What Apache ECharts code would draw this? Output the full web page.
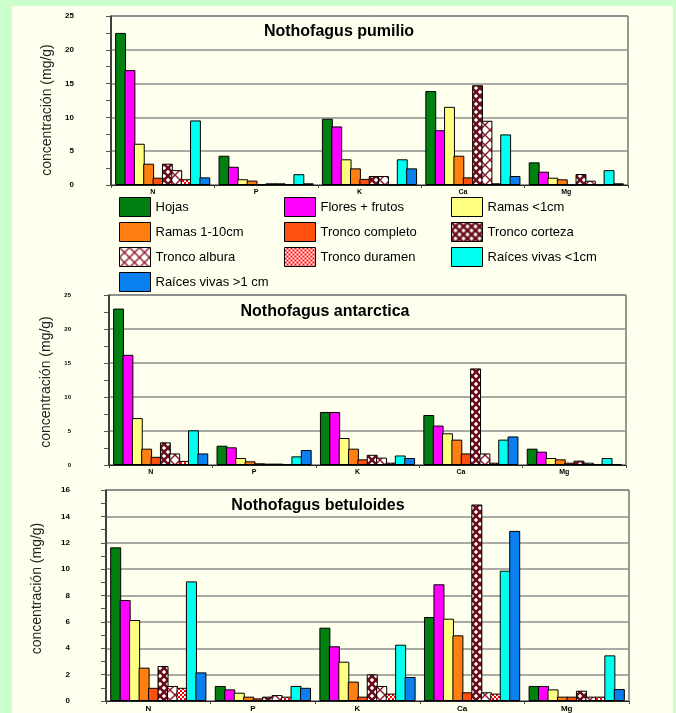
<!DOCTYPE html>
<html>
<head>
<meta charset="utf-8">
<script src="https://cdn.jsdelivr.net/npm/echarts@6/dist/echarts.min.js"></script>
<style>
html,body{margin:0;padding:0;background:#ccffcc;}
#chart{width:676px;height:713px;}
</style>
</head>
<body>
<div id="chart"></div>
<script>
// ---- Data ----
const elements = ['N', 'P', 'K', 'Ca', 'Mg'];
const seriesNames = ['Hojas', 'Flores + frutos', 'Ramas <1cm', 'Ramas 1-10cm', 'Tronco completo',
  'Tronco corteza', 'Tronco albura', 'Tronco duramen', 'Raíces vivas <1cm', 'Raíces vivas >1 cm'];
const yTicks25 = [0, 5, 10, 15, 20, 25];
const yTicks16 = [0, 2, 4, 6, 8, 10, 12, 14, 16];

// Nothofagus pumilio (values per element, in series order)
const pumilio_N  = [22.5, 17.0, 6.1, 3.15, 1.08, 3.15, 2.2, 0.85, 9.55, 1.13];
const pumilio_P  = [4.33, 2.7, 0.85, 0.65, 0.08, 0.25, 0.25, 0.12, 1.6, 0.25];
const pumilio_K  = [9.8, 8.66, 3.8, 2.46, 0.9, 1.33, 1.33, 0.05, 3.8, 2.46];
const pumilio_Ca = [13.9, 8.1, 11.56, 4.33, 1.13, 14.76, 9.5, 0.25, 7.48, 1.33];
const pumilio_Mg = [3.35, 1.97, 1.08, 0.84, 0.05, 1.62, 0.64, 0.05, 2.2, 0.25];

// Nothofagus antarctica
const antarctica_N  = [23.0, 16.2, 6.9, 2.4, 1.2, 3.33, 1.7, 0.6, 5.1, 1.7];
const antarctica_P  = [2.84, 2.6, 1.03, 0.54, 0.25, 0.2, 0.2, 0.15, 1.27, 2.2];
const antarctica_K  = [7.8, 7.8, 3.97, 2.4, 0.83, 1.5, 1.08, 0.34, 1.4, 1.03];
const antarctica_Ca = [7.35, 5.8, 4.66, 3.73, 1.7, 14.2, 1.7, 0.34, 3.73, 4.2];
const antarctica_Mg = [2.4, 1.96, 1.03, 0.83, 0.34, 0.64, 0.34, 0.15, 1.03, 0.12];

// Nothofagus betuloides
const betuloides_N  = [11.65, 7.66, 6.14, 2.53, 1.0, 2.65, 1.14, 1.0, 9.07, 2.17];
const betuloides_P  = [1.14, 0.88, 0.63, 0.33, 0.2, 0.33, 0.45, 0.33, 1.14, 1.0];
const betuloides_K  = [5.56, 4.15, 2.98, 1.47, 0.33, 2.02, 1.14, 0.56, 4.27, 1.82];
const betuloides_Ca = [6.37, 8.85, 6.24, 4.98, 0.66, 14.9, 0.66, 0.56, 9.88, 12.9];
const betuloides_Mg = [1.14, 1.14, 0.88, 0.33, 0.33, 0.78, 0.33, 0.33, 3.46, 0.91];

const species = [
  { title: 'Nothofagus pumilio', rows: [pumilio_N, pumilio_P, pumilio_K, pumilio_Ca, pumilio_Mg], ticks: yTicks25 },
  { title: 'Nothofagus antarctica', rows: [antarctica_N, antarctica_P, antarctica_K, antarctica_Ca, antarctica_Mg], ticks: yTicks25 },
  { title: 'Nothofagus betuloides', rows: [betuloides_N, betuloides_P, betuloides_K, betuloides_Ca, betuloides_Mg], ticks: yTicks16 }
];

// ---- Styles ----
function makePattern(w, h, draw) {
  const c = document.createElement('canvas');
  c.width = w; c.height = h;
  draw(c.getContext('2d'), w, h);
  return { image: c, repeat: 'repeat' };
}
function lattice(ctx, w, h, bg, fg, lw) {
  ctx.fillStyle = bg; ctx.fillRect(0, 0, w, h);
  ctx.strokeStyle = fg; ctx.lineWidth = lw;
  for (let k = -w; k <= w; k += w) {
    ctx.beginPath(); ctx.moveTo(k, 0); ctx.lineTo(k + w, h); ctx.stroke();
    ctx.beginPath(); ctx.moveTo(k, h); ctx.lineTo(k + w, 0); ctx.stroke();
  }
}
const cortezaPat = makePattern(8, 8, (ctx, w, h) => lattice(ctx, w, h, '#ffffff', '#6a0e1c', 2.6));
const alburaPat = makePattern(10, 10, (ctx, w, h) => lattice(ctx, w, h, '#ffffff', '#901828', 1.4));
const duramenPat = makePattern(4, 4, (ctx) => {
  ctx.fillStyle = '#ff0000'; ctx.fillRect(0, 0, 4, 4);
  ctx.fillStyle = '#ffffff'; ctx.fillRect(0, 0, 2, 2); ctx.fillRect(2, 2, 2, 2);
});
const seriesColors = ['#008010', '#ff00ff', '#ffff80', '#ff8010', '#ff5010',
  cortezaPat, alburaPat, duramenPat, '#00ffee', '#0a80f0'];

const FONT = "'Liberation Sans', Arial, sans-serif";
const grids = [
  { left: 111, top: 16, width: 517, height: 169 },
  { left: 109, top: 295, width: 517, height: 170 },
  { left: 106, top: 490, width: 523, height: 211 }
];
const titlePos = [[339, 24], [325, 304], [318, 498]];
const nameGaps = [57, 55, 62];
const namePads = [[0, 19, 0, 0], [0, 4, 0, 0], [0, 0, 0, 14]];
const labelMargins = [37, 38, 36];

const option = {
  backgroundColor: '#ccffcc',
  animation: false,
  textStyle: { fontFamily: FONT },
  graphic: [{
    type: 'rect', z: -10, silent: true,
    shape: { x: 12, y: 6, width: 661, height: 710 },
    style: { fill: '#ffffee' }
  }],
  title: species.map((s, i) => ({
    text: s.title, left: titlePos[i][0], top: titlePos[i][1], textAlign: 'center', padding: 0,
    textStyle: { fontSize: 16, fontWeight: 'bold', color: '#000', fontFamily: FONT }
  })),
  legend: [
    ['Hojas', 'Ramas 1-10cm', 'Tronco albura', 'Raíces vivas >1 cm'],
    ['Flores + frutos', 'Tronco completo', 'Tronco duramen'],
    ['Ramas <1cm', 'Tronco corteza', 'Raíces vivas <1cm']
  ].map((d, i) => ({
    data: d, orient: 'vertical', left: [119, 284, 451][i], top: 197, padding: 0,
    itemWidth: 31, itemHeight: 19, itemGap: 5, icon: 'rect', selectedMode: false,
    itemStyle: { borderColor: '#000', borderWidth: 1 },
    textStyle: { fontSize: 13, color: '#000', fontFamily: FONT, padding: [4, 0, 0, 0] }
  })),
  grid: grids.map(g => Object.assign({ show: true, borderColor: '#333', borderWidth: 1, backgroundColor: 'transparent' }, g)),
  xAxis: species.map((s, i) => ({
    type: 'category', gridIndex: i, data: elements,
    axisLine: { lineStyle: { color: '#222', width: 1.2 } },
    axisTick: { show: true, length: 3, lineStyle: { color: '#444' } },
    axisLabel: { fontSize: i === 2 ? 8 : 7, color: '#000', fontWeight: 'bold', margin: 4, padding: [0, 20, 0, 0] }
  })),
  yAxis: species.map((s, i) => {
    const t = s.ticks;
    return {
      type: 'value', gridIndex: i, min: t[0], max: t[t.length - 1], interval: t[1] - t[0],
      name: 'concentración (mg/g)', nameLocation: 'middle', nameGap: nameGaps[i],
      nameTextStyle: { fontSize: 14, color: '#222', fontFamily: FONT, padding: namePads[i] },
      axisLine: { show: true, lineStyle: { color: '#222', width: 1.5 } },
      axisTick: { show: true, length: 5, lineStyle: { color: '#555' } },
      minorTick: { show: true, splitNumber: 2, length: 5, lineStyle: { color: '#555' } },
      splitLine: { show: true, lineStyle: { color: '#8c8c8c', width: 1.5 } },
      axisLabel: { fontSize: i === 1 ? 6 : 8, color: '#000', fontWeight: 'bold', margin: labelMargins[i] }
    };
  }),
  series: []
};

species.forEach((s, gi) => {
  seriesNames.forEach((name, si) => {
    option.series.push({
      type: 'bar', name: name, xAxisIndex: gi, yAxisIndex: gi,
      data: s.rows.map(r => r[si]),
      barGap: '-14%', barCategoryGap: '8%',
      itemStyle: { color: seriesColors[si], borderColor: '#000', borderWidth: 1 }
    });
  });
});

const chart = echarts.init(document.getElementById('chart'), null, { renderer: 'canvas' });
chart.setOption(option);
</script>
</body>
</html>
